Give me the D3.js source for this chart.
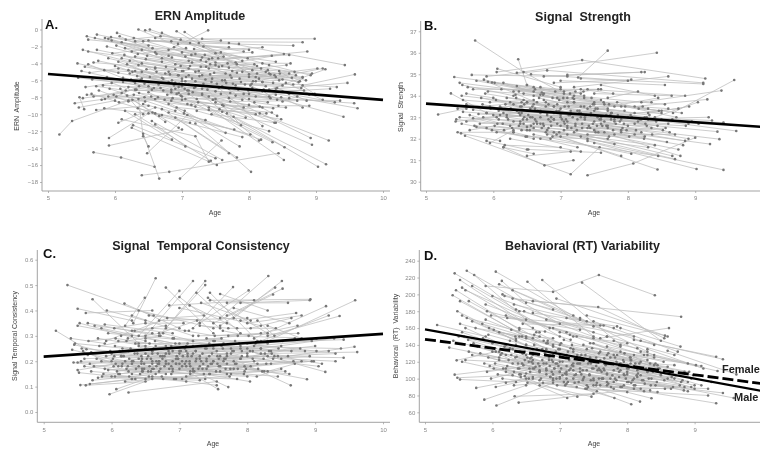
<!DOCTYPE html>
<html>
<head>
<meta charset="utf-8">
<script src="https://cdn.jsdelivr.net/npm/d3@7"></script>
<style>
  html, body { margin: 0; padding: 0; background: #fff; }
  svg { display: block; filter: blur(0.4px); font-family: "Liberation Sans", Arial, sans-serif; }
</style>
</head>
<body>
<svg id="chart" width="760" height="452"></svg>
<script>
// each row is one child: age, value, age, value (, age, value)
const ernRows = [
  [5.17,-12.4,5.36,-10.8,6.2,-8.4],[5.68,-14.5,6.09,-15.1,6.59,-16.2],[6.4,-17.2,6.81,-16.8,8.44,-14.6],
  [6.42,-12.3,6.66,-17.6],[6.97,-17.6,7.59,-13.1],[7.2,-11.1,8.03,-16.8],[7.67,-9.9,9.03,-16.2],[7.77,-10.3,9.15,-15.9],
  [8.16,-9.9,9.19,-13.1],[7.5,-8.6,8.94,-13.6],[7.7,-8.1,8.92,-12.8],[7.1,-7.6,8.52,-15.4],[7.4,-9.2,8.53,-13.9],
  [5.91,-13.7,7.0,-11.8],[5.91,-12.8,6.5,-9.9],[6.48,-14.6,7.08,-10.1],[6.35,-8.2,6.42,-12.6,6.5,-13.8],[6.05,-11,6.6,-9.2],
  [6.1,-10.6,7.2,-12.6,7.4,-15.6],[6.25,-11.6,7.52,-16],[6.27,-11.3,7.5,-15.2],[6.3,-10,7.43,-15.5],[6.55,-10.8,7.6,-15.4],
  [6.7,-9.4,7.7,-14.6],[6.9,-10.4,7.82,-15.1],[6.8,-8.8,7.86,-13.8],[7.05,-8.2,8.35,-13.3],[7.3,-7.7,8.15,-13.1],
  [6.6,-11.2,7.05,-13.8],[6.15,-9.6,6.85,-13],[6.5,-7.4,7.65,-12.2],[6.95,-6.8,8.4,-11],[7.6,-6.7,8.42,-10.2],
  [5.47,-8,5.54,-9.4],[5.4,-8.7,5.85,-8.2],[5.46,-9.2,6,-8.4],[5.52,-8.1,6.1,-7.5],[5.58,-7.7,6.45,-8.5],[5.65,-7.6,6.6,-9.9],
  [5.68,-7.9,6.3,-7.1],[5.72,-9.5,6.5,-9],[5.84,-9.3,6.7,-10.1],[5.9,-7.9,7,-8.3],[5.92,-7,6.9,-9.6],[5.98,-7.7,7.2,-9.1],
  [5.56,-6.8,6.4,-5.8],[5.45,-5.7,6.5,-6.7],[5.5,-4.9,6.3,-6.3],[5.44,-4,6.05,-5.1],[5.55,-4.4,6.8,-6.2],[5.6,-4.1,6.55,-7.1],
  [5.68,-3.9,6.9,-4.7],[5.75,-3.7,7,-5.8],[5.52,-2.4,6.6,-4.6],[5.6,-2.6,6.7,-3.8],[5.73,-2.4,7.1,-4.6],[5.58,-0.8,6.6,-2.7],
  [5.6,-1.2,6.5,-1.9],[5.73,-0.6,7.2,-2.9],[5.7,-1,7.4,-3.5],[5.85,-1,7.5,-4.2],[5.9,-1.1,6.85,-3.3],[5.95,-1.3,7.6,-6],
  [6.03,-0.4,7.3,-3.3],[6.07,-0.8,7.45,-5.8],[6.35,0,7.7,-4.5],[6.45,-0.1,8.3,-4.2],[6.52,0,7.9,-3.7],[6.7,-0.4,8.05,-4.8],
  [6.92,-0.2,8.1,-5.6],[7.04,-0.3,8.2,-6.2],[7.39,-0.1,6.8,-2.4],[6.6,-1,7.85,-1.7],[6.3,-1.4,8.8,-1.5],[7.3,-1.1,8.98,-1.1],
  [7.25,-1.6,8.66,-1.9],[7,-2.7,8.2,-2.1],[6.8,-3.1,8.05,-2.7],[7.1,-3.7,8.6,-3],[6.9,-4.1,8.87,-2.6],[7.5,-2.8,8.4,-3.8],
  [7.7,-1.6,9.43,-4.2],[8,-5.6,9.02,-4.6],[8.1,-6.1,9.1,-4.6],[8.3,-7.1,9.14,-4.7],[8.8,-6.6,9.58,-5.3],[8.2,-7.3,9.62,-9.3],
  [7.99,-7.2,9.41,-10.3],[7.8,-7.8,9.57,-8.7],[8,-8.2,9.36,-8.4],[8.4,-7,9.47,-6.3],[8.2,-6.2,9.31,-6.8],[8.5,-7.3,9.21,-7],
  [7.3,-5.4,8.8,-5.7],[7.4,-4.6,8.7,-5.4],[7.5,-3.9,8.62,-4],[7.2,-5,8.76,-6.1],[7.6,-4.3,8.5,-5.9],[7.75,-4.9,8.56,-4.2],
  [6.95,-5.4,8.4,-5.6],[7.05,-6.1,8.3,-5.2],[7.1,-6.5,8.45,-6],[7.15,-5.8,8.25,-6.7],[6.75,-5.2,8.15,-5.8],[6.85,-6,8.05,-6.9],
  [6.4,-4,7.65,-5.2],[6.3,-3.2,7.55,-4.4],[6.2,-4.8,7.35,-5.9],[6.1,-3.4,7.25,-4.9],[6.25,-2.6,7.15,-3.9],[6.15,-2.2,7.45,-3.4],
  [6.05,-3.8,7,-6.7],[6,-4.3,7.1,-7.2],[6.12,-5.7,7.3,-7.6],[6.2,-6.8,7.4,-7.9],[6.28,-6.1,7.5,-8.2],[6.36,-7.5,7.6,-8.9],
  [6.44,-6.4,7.72,-7.5],[6.52,-5.6,7.8,-6.6],[6.58,-6.9,7.9,-8.3],[6.64,-8,7.92,-9.2],[6.72,-7.2,8,-8.9],[6.78,-7.7,8.1,-7.9],
  [6.84,-8.4,8.2,-9.2],[6.9,-7,8.28,-8.6],[7,-7.9,8.36,-9.3],[7.08,-8.8,8.34,-9.8],[7.16,-7.4,8.4,-7.7],[7.24,-8.6,7.95,-10.4],
  [7.32,-6.4,8.32,-8.1],[7.38,-7.1,7.88,-11.3],[7.46,-8.3,8.1,-10],[7.55,-6.9,8.2,-11.4],[7.58,-7.6,8.6,-8.1],[7.62,-9,8.55,-9.2],
  [6.22,-5.2,6.9,-6.3],[6.33,-5.5,7.2,-6.8],[6.47,-4.7,7.42,-5.3],[5.88,-5.6,6.95,-7.5],[5.82,-6.6,6.68,-6.9],[5.95,-6.3,6.6,-8.2],
  [6.08,-7,6.42,-10],[6.18,-7.8,6.75,-10.9],[6.26,-8.3,6.95,-11.6],[6.34,-9.3,7.12,-11],[6.42,-8.8,7.35,-10.7],[6.56,-9.8,7.78,-11.8],
  [6.66,-10.2,7.9,-12.7],[6.8,-9.8,8.02,-12.4],[7.03,-9.9,8.18,-13],[7.22,-9.6,8.3,-12],[7.44,-10,8.38,-11],[7.56,-9.4,8.48,-10.6],
  [7.05,-3.2,7.72,-5.4],[7.18,-2.3,7.98,-3.4],[7.34,-3,8.12,-4.3],[7.42,-4.1,8.25,-5],[6.98,-4.3,8.08,-4.1],[6.62,-2.9,7.62,-3.2],
  [8.2,-4,8.92,-5.4],[8.32,-5.3,8.85,-6],[8.45,-4.9,8.98,-7.6],[8.55,-6.3,9.1,-8.3],[8.6,-7.6,9.28,-8.6],[8.48,-8,8.8,-9.2],
  [5.9,-3.4,6.35,-4.2,7.02,-4.9],[5.96,-2.8,6.4,-2.4,7.28,-3.6],[6.02,-1.9,6.48,-3.1,7.36,-4.4],[6.1,-1.5,6.56,-2.2,7.58,-2.7],
  [6.14,-3,6.62,-5,7.66,-6.3],[6.18,-4.1,6.7,-5.7,7.74,-5.7],[6.22,-3.7,6.76,-4.4,7.82,-5.1],[6.24,-5.9,6.82,-5.3,7.88,-6.2],
  [6.3,-4.9,6.88,-6.6,7.94,-6.5],[6.32,-7.1,6.92,-7.6,8,-7.6],[6.38,-6,7,-6.1,8.06,-6.1],[6.4,-5,7.06,-5.6,8.12,-5.2],
  [6.46,-3.5,7.12,-4.3,8.18,-4.6],[6.5,-6.2,7.18,-6.9,8.24,-7.3],[6.54,-7.9,7.22,-8.2,8.3,-7.9],[6.6,-4.5,7.26,-5.5,8.36,-6.3],
  [6.65,-6.5,7.3,-7,8.42,-8.3],[6.7,-3.4,7.36,-3.8,8.46,-5.2],[6.74,-8.3,7.4,-9.5,8.26,-9.9],[6.8,-5,7.44,-6.2,8.5,-6.6],
  [6.84,-7.1,7.5,-7.3,8.58,-7.5],[6.88,-2.1,7.54,-3.4,8.34,-3.1],[6.92,-9.2,7.6,-9.7,8.16,-9.1],[6.96,-6.4,7.64,-6,8.64,-5.7],
  [7,-4.9,7.68,-4,8.68,-5],[7.04,-7,7.72,-8.5,8.72,-8.4],[7.1,-5.4,7.76,-6.4,8.78,-6.9],[7.14,-3,7.8,-3.9,8.52,-2.9],
  [7.2,-6.1,7.84,-7.1,8.82,-7.2],[7.28,-4.4,7.9,-5,8.74,-6.2],[5.62,-5.1,6.05,-4.6,6.72,-5.8],[5.66,-5.9,6.12,-6.2,6.98,-7.8],
  [5.72,-6.7,6.16,-7.2,7.08,-7.2],[5.76,-7.2,6.2,-8.5,6.86,-8.1],[5.8,-8.3,6.28,-7.7,7.14,-8.9],[5.84,-4.8,6.26,-5,6.94,-5.4],
  [5.88,-2,6.34,-2.9,7.06,-2.2],[5.94,-0.9,6.42,-1.4,6.98,-1.2],[6.02,-7.9,6.36,-6.7,6.84,-7.4],[6.06,-8.6,6.44,-8,7.04,-9.6],
  [6.16,-1.2,6.68,-0.8,7.58,-1.3],[6.28,-1,6.94,-1.7,7.7,-2.1],[6.5,-1.3,7.12,-1.6,7.92,-2.6],[6.84,-1.4,7.32,-2,8,-2.4],
  [7.48,-5.1,8,-5.3,8.6,-5.2],[7.52,-6.4,8.04,-6.4,8.66,-6.5],[7.7,-7,8.22,-7.1,8.9,-7.7],[7.82,-4.1,8.28,-4.8,8.94,-5.2],
  [7.86,-5.8,8.38,-5.4,8.8,-5.6],[7.92,-7.6,8.42,-6.9,8.86,-8.4],[8.02,-6.6,8.5,-8.5,8.72,-7.9],[8.08,-8.6,8.44,-9,8.9,-9]
];
const ssRows = [
  [5.73,36.57,6.45,35.1,7.05,34.1],[6.37,35.7,6.5,34.5],[7.26,34.85,7.7,36.1],[6.35,35.07,8.43,36],[6.05,35.1,7.32,35.66,9.15,34.8],
  [5.9,34.9,6.8,35.18,9.12,34.6],[6.06,35.26,7,34.4],[5.68,34.97,7.1,34.9],[5.42,34.87,6.6,34.4],[8.67,33.2,9.58,34.73],
  [8.2,33.7,9.39,34.24],[8.1,33.5,9.18,33.83],[8.4,33,9.04,33.7],[8.3,33.2,8.91,33.5],[8.3,32.9,9.61,32.36],[8.2,32.9,9.42,32.75],
  [8.1,32.7,9.33,32.33],[7.7,32.6,9.36,31.98],[7.9,32.3,9.22,31.75],[7.4,31.9,9.42,30.55],[7.5,31.8,9.02,30.59],[7,32.1,8.44,30.57],
  [5.58,32.14,7.15,30.35,7.58,31.6],[7.4,30.3,8.08,30.85,9,32.05],[6.15,31.6,6.76,30.76,7.19,31],[5.18,33.13,5.6,33.4],[5.37,34.11,5.9,33.2],
  [5.47,32.3,6.3,32.3],[5.52,32.25,6.1,31.9],[5.53,32.7,6.5,32.1],[5.45,32.9,6.6,32.5],[5.44,32.8,6.2,33.1],[5.5,33,6.4,32.8],
  [5.55,33.25,6.7,33],[5.47,33.4,6.5,33.7],[5.6,33.6,6.8,33.2],[5.53,34,6.9,33.5],[5.54,34.5,6.3,34],[5.5,34.6,6.75,34.1],
  [5.62,34.4,6.6,34.2],[5.7,34.3,7,34.3],[5.75,34.7,7.1,33.9],[5.86,34.75,7.2,33.7],[5.92,34.65,7,33.2],[5.98,34.62,7.3,34.1],
  [6.02,34.6,7.5,33.7],[6.15,34.6,7.4,33.4],[6.35,34.45,7.6,33.8],[6.38,34.2,7.35,34],[6.5,34.5,7.8,33.5],[6.56,35,8,34.7],
  [6.75,34.9,8.2,35.1],[7.1,34.97,8.25,35.1],[6.9,34.6,8.05,34.75],[7.2,34.4,8.6,34.9],[7.3,34.8,9.12,34.55],[7,34.7,8.55,34.5],
  [7.4,34.3,8.85,34],[7.5,34.1,8.65,34],[7.6,34.5,8.4,34],[7.55,33.4,8.45,33.9],[7.7,33.9,8.15,34.2],[7.65,33.6,8.6,33.4],
  [5.72,32.6,6.8,32.4],[5.75,32.55,6.6,32],[5.8,32.7,6.9,32.9],[5.85,33,7,33.1],[5.9,33.2,7.05,32.8],[5.95,33.5,7.1,32.6],
  [5.9,31.9,6.5,31.5],[5.95,31.8,6.3,32.4],[6.15,31.6,6.6,31.3],[6.17,31.7,7,31.6],[6.5,31.2,7.15,31.4],[6.52,31.5,7.6,31.35],
  [6.25,32,7.3,31.4],[6.3,32.3,7.25,31.6],[6.42,32.4,7.7,32],[6.4,32.7,7.8,31.75],[6.5,32.55,7.9,31.2],[6.6,32.2,8.05,31.3],
  [6.7,32,8.45,31.2],[6.8,32.2,8.3,31.6],[6.9,32.3,8.4,31.7],[7,32.6,8.75,31.5],[7.1,32.8,8.78,31.2],[7.2,32.3,8.66,31.2],
  [7.3,32.1,8.7,31.05],[7.4,32.5,8.58,31.85],[7.5,32.4,8.82,31.7],[7.6,32.7,8.9,32],[7.7,32.5,8.85,31.9],[7.8,32.8,8.95,32.8],
  [7.9,32.9,9.2,33],[8,33,9.25,32.85],[7.85,33.1,9.05,32.7],[7.75,33.2,8.9,32.7],[7.6,33,8.75,33.4],[7.45,33.2,8.5,33.2],
  [6.1,33.5,7,33.4],[6.15,33.2,7.15,33.2],[6.2,33,7.25,33.3],[6.25,33.7,7.35,33.5],[6.3,33.6,7.45,33.1],[6.35,33.3,7.55,33],
  [6.4,33.1,7.65,32.8],[6.45,33.8,7.75,32.9],[6.5,32.9,7.7,33.4],[6.55,33.4,7.85,33],[6.6,33.6,7.95,33.3],[6.65,32.7,7.9,32.4],
  [6.7,33.3,8,32.6],[6.75,33.8,8.1,33.2],[6.8,33.1,8.15,32.8],[6.85,32.8,8.2,32.3],[6.9,33.5,8.25,33],[6.95,33.9,8.3,33.4],
  [7,33,8.35,32.5],[7.05,32.4,8.25,32.1],[7.1,33.7,8.35,33.7],[7.15,33.3,8.5,32.9],[7.2,34,8.55,33.6],[7.25,32.9,8.6,32.7],
  [7.3,33.5,8.62,32.3],[7.35,33.9,8.72,33],[5.6,32.8,6.05,33],[5.65,33.1,6.25,32.6],[5.7,33.35,6.55,33],[5.82,33.9,6.4,33.5],
  [5.88,34.1,6.65,33.7],[5.92,34.2,6.7,34.05],[5.98,32.4,6.75,32.6],[6.05,32.3,6.85,32],[6.08,32.9,6.95,32.7],[6.12,34.3,7.05,34.2],
  [6.2,33.9,6.95,33.6],[6.28,32.5,7.1,32.2],[6.33,34.05,7.2,33.85],[6.42,33.5,7.3,33],[6.48,32.1,7.4,32],[6.58,33,7.5,32.8],
  [6.62,34.3,7.6,34.3],[6.68,33.9,7.5,33.3],[6.72,32.5,7.65,32.3],[6.78,33.7,7.72,33.6],[6.82,32.9,7.42,32.6],[6.88,32.1,7.8,32.2],
  [5.96,33.4,6.38,33.2,6.98,33.3],[6,33.1,6.44,32.9,7.08,32.9],[6.04,33.8,6.46,33.6,7.12,33.5],[6.08,33.3,6.52,33.1,7.18,33],
  [6.14,32.7,6.56,32.6,7.22,32.6],[6.18,33.6,6.62,33.4,7.28,33.2],[6.22,32.9,6.64,32.8,7.32,32.7],[6.26,33.4,6.7,33.2,7.38,33.1],
  [6.3,32.8,6.74,32.7,7.44,32.5],[6.34,33.9,6.78,33.5,7.48,33.6],[6.38,32.6,6.82,32.5,7.52,32.3],[6.42,33.2,6.86,33,7.58,32.9],
  [6.46,33,6.9,32.9,7.62,32.6],[6.5,33.7,6.94,33.3,7.68,33.1],[6.54,32.4,6.98,32.3,7.72,32.1],[6.58,33.5,7.02,33.2,7.76,33.2],
  [6.62,32.9,7.06,32.7,7.82,32.7],[6.66,33.3,7.12,33.1,7.88,32.8],[6.7,32.7,7.16,32.5,7.92,32.5],[6.74,34.05,7.2,33.7,7.96,33.5],
  [6.78,32.3,7.24,32.4,8.02,32.1],[6.82,33.6,7.28,33.3,8.06,33],[6.86,32.6,7.32,32.5,8.12,32.4],[6.9,33.2,7.36,33,8.18,32.9],
  [6.94,32.2,7.4,32.2,8.24,32],[6.98,33.8,7.44,33.5,8.22,33.5],[7.02,32.9,7.48,32.7,8.28,32.6],[7.06,33.5,7.52,33.4,8.32,33.1],
  [7.1,32.5,7.56,32.3,8.36,32.2],[7.14,33.1,7.6,32.9,8.42,32.8],[7.18,33.9,7.64,33.7,8.46,33.3],[7.22,32.7,7.68,32.6,8.52,32.4],
  [5.55,33.8,5.95,33.7,6.6,33.8],[5.6,34.1,6,33.9,6.52,33.3],[5.65,32.4,6.02,32.6,6.5,32.4],[5.7,32.95,6.06,32.7,6.45,32.7],
  [5.78,33.15,6.1,33.1,6.5,33.3],[5.84,33.6,6.12,33.4,6.42,33.7],[5.9,32.5,6.16,32.4,6.6,32.7],[6.3,34.2,6.7,34.4,7.22,34.2],
  [6.45,34.1,6.88,33.9,7.34,34.2],[6.6,34,7.04,33.9,7.46,33.9],[6.72,34.15,7.14,34.1,7.56,34.3],[6.92,34.2,7.3,34.3,7.78,34.1],
  [7.3,33.2,7.74,33.1,8.28,33],[7.36,32.9,7.8,32.9,8.44,32.6],[7.5,33.6,7.9,33.5,8.5,33.3],[7.54,32.6,7.98,32.4,8.56,32.5],
  [7.7,33.3,8.04,33.1,8.66,32.9],[7.78,32.4,8.1,32.2,8.7,32.2],[7.84,33.7,8.16,33.4,8.8,33.2],[7.94,32.7,8.26,32.7,8.86,32.6]
];
const stcRows = [
  [5.35,0.50,6.62,0.38],[5.18,0.32,5.63,0.247],[6.32,0.35,6.65,0.527],[6.2,0.34,6.49,0.45],[6.5,0.3,7.2,0.516],[6.8,0.33,7.38,0.516],
  [6.7,0.3,7.38,0.5],[6.8,0.49,7.5,0.31],[6.4,0.3,7,0.477],[7,0.453,7.6,0.33],[7.2,0.33,7.79,0.492],[7.3,0.35,8.02,0.479],
  [7.6,0.37,8.31,0.536],[7.8,0.37,8.51,0.516],[7.7,0.38,8.52,0.486],[7.6,0.34,8.41,0.49],[7.5,0.35,8.38,0.463],[7.45,0.44,8.93,0.444],
  [7.9,0.43,8.92,0.44],[8.3,0.28,9.59,0.44],[8.1,0.29,9.16,0.417],[8.2,0.28,9.2,0.38],[8.3,0.3,9.36,0.378],[8.2,0.23,9.62,0.236],
  [8,0.22,9.42,0.214],[7.9,0.25,9.15,0.158],[7.5,0.2,8.88,0.129],[7.7,0.22,8.64,0.105],[5.97,0.07,6.6,0.13],[6.25,0.077,7.55,0.12],
  [6.07,0.09,6.5,0.13],[5.54,0.106,6.35,0.13],[6.6,0.24,7.57,0.09],[6.9,0.2,7.72,0.098],[5.5,0.407,6.3,0.36],[5.62,0.39,6.6,0.4],
  [5.72,0.444,6.4,0.27],[5.93,0.40,6.5,0.36],[6.19,0.427,7,0.33],[5.4,0.29,5.9,0.27],[5.5,0.34,6.3,0.3],[5.53,0.35,6.5,0.28],
  [5.45,0.265,6.15,0.22],[5.42,0.245,6.4,0.18],[5.46,0.27,6.6,0.24],[5.5,0.165,6.3,0.2],[5.52,0.155,6.05,0.14],[5.44,0.195,6.45,0.16],
  [5.5,0.195,6.6,0.19],[5.55,0.2,6.7,0.2],[5.6,0.21,6.75,0.22],[5.65,0.225,6.5,0.25],[5.7,0.235,6.85,0.23],[5.75,0.34,6.6,0.31],
  [5.65,0.35,6.9,0.29],[5.8,0.29,7,0.24],[5.85,0.33,7.1,0.26],[5.9,0.345,6.9,0.31],[5.95,0.31,7.2,0.28],[5.62,0.105,6.5,0.12],
  [5.68,0.11,6.3,0.13],[5.72,0.125,6.65,0.15],[5.8,0.135,6.95,0.13],[5.88,0.15,7.1,0.12],[5.95,0.165,7.2,0.17],[6,0.14,7.3,0.125],
  [6,0.23,7.1,0.2],[6.05,0.26,7.3,0.22],[6.1,0.28,7.4,0.25],[6.15,0.18,7.2,0.16],[6.2,0.2,7.35,0.19],[6.2,0.12,7.45,0.15],
  [6.25,0.24,7.5,0.28],[6.3,0.19,7.6,0.22],[6.3,0.15,7.55,0.105],[6.35,0.27,7.65,0.27],[6.4,0.21,7.7,0.19],[6.45,0.17,7.75,0.17],
  [6.5,0.23,7.8,0.24],[6.55,0.14,7.85,0.13],[6.6,0.2,7.9,0.21],[6.65,0.26,8,0.23],[6.7,0.16,8,0.14],[6.72,0.22,8.05,0.18],
  [6.78,0.18,8.1,0.2],[6.82,0.25,8.2,0.25],[6.88,0.15,8.22,0.16],[6.92,0.29,8.3,0.27],[6.98,0.21,8.4,0.22],[7,0.17,8.45,0.14],
  [7.02,0.24,8.5,0.26],[7.08,0.19,8.62,0.15],[7.12,0.27,8.65,0.24],[7.18,0.22,8.7,0.29],[7.22,0.16,8.35,0.19],[7.28,0.3,8.75,0.31],
  [7.32,0.2,8.8,0.2],[7.38,0.25,8.85,0.24],[7.42,0.18,8.98,0.2],[7.48,0.23,9.05,0.18],[7.52,0.28,9.02,0.24],[7.58,0.21,9.3,0.23],
  [7.62,0.26,9.38,0.25],[7.68,0.17,8.95,0.2],[7.72,0.3,9.02,0.29],[7.78,0.24,9.2,0.24],[7.82,0.19,9.58,0.257],[7.88,0.27,9.42,0.285],
  [6.3,0.38,7.2,0.3],[6.4,0.4,7.5,0.33],[6.55,0.38,7.7,0.35],[6.7,0.36,8,0.37],[6.85,0.42,8.1,0.44],[7,0.41,8.2,0.34],
  [7.15,0.42,7.85,0.33],[7.25,0.47,7.9,0.31],[7.32,0.43,8.05,0.36],[7.42,0.45,8.3,0.31],[7.45,0.47,8.15,0.28],[7.6,0.465,8.3,0.4],
  [7.7,0.43,8.6,0.43],[7.8,0.41,8.62,0.35],[7.9,0.36,8.72,0.39],[8,0.35,8.8,0.38],[8.05,0.33,8.65,0.37],[8.15,0.36,8.4,0.3],
  [8.3,0.34,8.8,0.29],[8.1,0.26,8.95,0.28],[8.2,0.25,9.28,0.29],[8.35,0.24,9,0.26],[8.45,0.22,9.1,0.19],[8.5,0.21,9.3,0.2],
  [5.58,0.24,6.1,0.18],[5.6,0.18,6.25,0.16],[5.68,0.19,6.45,0.21],[5.78,0.21,6.6,0.17],[5.85,0.2,6.7,0.19],[5.9,0.17,6.8,0.15],
  [5.92,0.22,6.8,0.26],[6,0.2,6.9,0.17],[6.03,0.18,6.95,0.21],[6.08,0.16,6.95,0.19],[6.12,0.24,7,0.23],[6.18,0.22,7.1,0.24],
  [6.22,0.17,7.15,0.19],[6.28,0.25,7.25,0.21],[6.32,0.2,7.3,0.18],[6.38,0.23,7.4,0.21],[6.42,0.15,7.4,0.17],[6.48,0.19,7.5,0.2],
  [6.52,0.21,7.55,0.24],[6.58,0.16,7.6,0.18],[6.62,0.25,7.65,0.2],[6.68,0.19,7.7,0.23],[6.75,0.21,7.8,0.17],[6.8,0.2,7.9,0.26],
  [6.85,0.17,7.95,0.15],[6.9,0.24,8,0.27],[6.95,0.19,8.08,0.21],[7.05,0.22,8.15,0.19],[7.1,0.14,8.25,0.16],[7.15,0.2,8.3,0.22],
  [6.02,0.21,6.44,0.19,7.04,0.2],[6.06,0.19,6.48,0.17,7.1,0.18],[6.1,0.15,6.54,0.16,7.16,0.15],[6.14,0.22,6.58,0.21,7.2,0.23],
  [6.16,0.25,6.6,0.23,7.24,0.24],[6.24,0.18,6.66,0.18,7.3,0.21],[6.26,0.21,6.7,0.2,7.34,0.17],[6.3,0.13,6.74,0.14,7.38,0.13],
  [6.34,0.23,6.78,0.22,7.44,0.22],[6.36,0.17,6.8,0.19,7.46,0.19],[6.4,0.26,6.84,0.24,7.5,0.26],[6.44,0.2,6.88,0.18,7.54,0.16],
  [6.46,0.16,6.9,0.16,7.58,0.18],[6.5,0.29,6.94,0.27,7.62,0.29],[6.54,0.22,6.98,0.21,7.66,0.21],[6.56,0.18,7,0.19,7.7,0.15],
  [6.6,0.14,7.04,0.13,7.74,0.14],[6.64,0.28,7.08,0.25,7.76,0.25],[6.68,0.23,7.12,0.22,7.8,0.2],[6.72,0.17,7.16,0.18,7.84,0.19],
  [6.76,0.31,7.2,0.28,7.86,0.3],[6.8,0.23,7.24,0.24,7.92,0.22],[6.84,0.19,7.28,0.17,7.96,0.16],[6.88,0.26,7.32,0.26,8,0.25],
  [6.92,0.13,7.36,0.15,8.04,0.12],[6.96,0.22,7.4,0.2,8.08,0.24],[7,0.27,7.44,0.27,8.12,0.27],[7.04,0.18,7.48,0.19,8.16,0.17],
  [7.08,0.32,7.52,0.3,8.2,0.31],[7.12,0.23,7.56,0.22,8.24,0.21],[7.16,0.16,7.6,0.16,8.28,0.19],[7.2,0.26,7.64,0.25,8.32,0.24],
  [7.24,0.2,7.68,0.21,8.36,0.23],[7.3,0.34,7.72,0.33,8.42,0.33],[7.34,0.23,7.76,0.23,8.46,0.25],[7.4,0.29,7.82,0.28,8.52,0.28],
  [7.44,0.15,7.86,0.17,8.56,0.16],[7.5,0.25,7.92,0.24,8.6,0.22],[7.56,0.19,7.96,0.18,8.68,0.2],[7.64,0.32,8.02,0.3,8.74,0.34],
  [5.56,0.25,5.98,0.24,6.44,0.22],[5.6,0.23,6.04,0.22,6.5,0.26],[5.66,0.28,6.06,0.29,6.56,0.27],[5.7,0.16,6.12,0.15,6.62,0.17],
  [5.74,0.18,6.16,0.19,6.66,0.2],[5.82,0.26,6.22,0.28,6.72,0.3],[5.86,0.14,6.26,0.14,6.76,0.13],[5.92,0.28,6.3,0.32,6.8,0.34],
  [6.04,0.33,6.5,0.35,7.06,0.35],[6.14,0.3,6.6,0.33,7.14,0.32],[6.24,0.29,6.7,0.31,7.26,0.36],[6.34,0.32,6.82,0.37,7.36,0.38],
  [7.76,0.15,8.14,0.14,8.5,0.17],[7.9,0.21,8.26,0.23,8.78,0.25],[7.98,0.17,8.3,0.16,8.7,0.19],[8.04,0.24,8.38,0.21,8.92,0.22]
];
const rtRows = [
  [5.44,225,6.4,180],[5.62,228,7,165],[5.73,223,6.5,170],[6.05,227,7.3,170],[5.52,217,6.6,160],[6.14,216,6.5,190],[6.52,215,7.5,150],
  [6.74,217,7.9,140],[5.9,210,6.9,203,7.58,223,8.41,199],[7.33,214,8.5,145],[6.3,195,8.8,173.5],[5.41,199,6.8,135],[6.6,192,7.57,185,8.55,148],
  [7.6,148,8.62,160],[7.4,175,8.56,151],[7.9,160,8.79,138],[8.1,146,9.32,126],[8.2,145,9.42,123],[8.2,132,9.02,116],[8.3,135,9.13,112],
  [8.3,128,9.34,109],[8.6,133,9.62,105],[8.1,100,9.58,77],[7.7,92,9.32,70.7],[7.4,88,9.2,80],[8,96,9.42,83],[6.06,68,6.9,95],
  [5.88,75,6.5,92],[6.39,71.5,8.2,88],[6.33,79,7.5,82],[6.7,110,8.06,69.5],[6.9,105,8.19,72.7],[7.2,100,8.36,76.6],[6.2,108,7.11,77],
  [6.5,100,7.26,78.6],[6.7,92,7.47,78.6],[6.9,98,7.81,77],[5.18,163.6,5.9,150],[5.36,136.8,6.1,125],[5.44,104.7,6.2,112],[5.48,101,6.3,104],
  [5.52,99,6.35,96],[5.76,89,6.6,102],[5.47,121.7,6.05,132],[5.55,120,6.4,105],[5.6,122,6.6,118],[5.65,132,6.7,108],[5.7,128,6.8,118],
  [5.42,145,6.2,128],[5.5,150,6.3,135],[5.55,155,6.5,128],[5.52,165,6.35,147],[5.6,160,6.45,130],[5.48,180,6.35,145],[5.55,175,6.6,135],
  [5.62,172,6.7,150],[5.7,168,6.5,140],[5.75,160,6.6,148],[5.85,165,6.9,140],[5.9,170,7,135],[5.95,160,7.1,128],[5.46,205,6.4,158],
  [5.55,208,6.7,155],[5.6,205,6.85,160],[5.65,192,6.8,142],[5.7,210,7,150],[5.52,192,6.5,150],[5.9,188,7.2,150],[5.92,180,7.1,155],
  [5.98,175,7.3,158],[6,198,7.5,155],[6.1,212,7.2,175],[6.15,200,7.4,168],[6.18,198,6.9,182],[6.2,175,7.5,148],[6.22,172,7.6,163],
  [6.3,205,7.5,162],[6.32,188,7.8,160],[6.35,182,7.7,150],[6.47,180,7.9,138],[6.45,165,7.65,163],[6.6,178,7.85,162],[6.8,170,8.1,150],
  [6.95,195,8.6,150],[7.1,172,8.4,140],[7.3,172,8.3,132],[7.5,168,8.75,132],[7.7,150,8.7,128],[7.8,145,8.4,128],[6.9,160,8.25,128],
  [7,155,8.15,136],[7.15,152,8.05,125],[7.25,150,8,142],[7.35,140,8.3,122],[7.45,142,8.45,116],[7.6,132,8.9,118],[7.7,138,9.1,115],
  [7.75,125,8.85,108],[7.85,128,8.95,100],[7.95,120,9.1,92],[8.05,118,9.25,96],[8.15,110,9,88],[8.2,104,8.95,90],[8.1,92,9.2,88],
  [5.82,130,6.7,115],[5.88,118,6.8,105],[5.92,108,6.9,120],[5.98,100,6.6,112],[6.02,112,7,100],[6.05,90,7.1,108],[6.1,122,7.2,115],
  [6.15,100,7.25,90],[6.18,138,7.3,125],[6.22,115,7.35,100],[6.28,128,7.4,110],[6.32,92,7.5,100],[6.38,118,7.55,95],[6.42,105,7.6,120],
  [6.45,130,7.65,112],[6.5,148,7.7,128],[6.55,112,7.75,100],[6.58,125,7.8,88],[6.62,140,7.85,118],[6.68,118,7.9,110],[6.72,100,7.95,92],
  [6.78,130,8,105],[6.82,145,8.05,122],[6.88,122,8.1,115],[6.92,112,8.15,102],[6.98,135,8.2,120],[7,108,8.25,85],[7.05,125,8.3,108],
  [7.1,115,8.35,92],[7.18,140,8.4,125],[7.22,95,8.45,84],[7.28,118,8.5,105],[7.32,105,8.55,98],[7.38,128,8.6,114],[7.42,90,8.65,88],
  [7.48,112,8.7,100],[7.52,120,8.8,96],[7.58,100,8.85,90],[7.62,108,8.9,85],[7.68,116,9,92],[6.35,140,7,120],[6.4,150,7.2,132],
  [6.48,122,7.1,105],[6.52,95,7.4,92],[6.6,100,7.3,118],[6.65,155,7.45,125],[6.7,108,7.5,112],[6.75,95,7.55,85],[6.85,115,7.6,92],
  [6.9,128,7.7,105],[6.95,100,7.8,96],[7,140,7.9,118],[7.08,92,7.95,105],[7.12,132,8,112],[7.2,110,8.1,88],
  [6.34,125,6.76,118,7.3,108],[6.38,112,6.8,110,7.36,102],[6.4,132,6.84,122,7.42,118],[6.44,118,6.88,108,7.46,98],[6.48,103,6.9,100,7.5,92],
  [6.5,140,6.94,132,7.54,125],[6.54,120,6.98,115,7.58,112],[6.56,108,7,102,7.62,100],[6.6,128,7.04,120,7.66,110],[6.64,114,7.08,106,7.7,96],
  [6.66,135,7.1,125,7.72,118],[6.7,98,7.12,96,7.76,90],[6.74,122,7.16,112,7.78,104],[6.76,145,7.2,135,7.82,125],[6.8,110,7.22,104,7.84,98],
  [6.84,125,7.26,118,7.88,108],[6.86,102,7.28,96,7.9,90],[6.9,138,7.32,128,7.94,122],[6.94,118,7.34,110,7.98,100],[6.96,92,7.38,88,8,84],
  [7,128,7.42,122,8.02,112],[7.02,112,7.44,104,8.06,95],[7.06,146,7.48,136,8.1,128],[7.1,100,7.5,98,8.12,92],[7.14,122,7.54,115,8.16,106],
  [7.16,136,7.58,130,8.18,118],[7.2,118,7.6,110,8.22,98],[7.24,105,7.64,100,8.26,94],[7.26,128,7.66,124,8.28,112],[7.3,112,7.7,106,8.32,100],
  [7.34,98,7.72,94,8.34,86],[7.36,122,7.76,118,8.38,108],[7.4,135,7.8,128,8.42,118],[7.44,105,7.82,100,8.44,96],[7.46,118,7.86,112,8.5,104],
  [7.5,142,7.9,132,8.54,120],[7.54,92,7.92,90,8.56,88],[7.56,110,7.96,104,8.6,100],[7.6,122,8,116,8.64,108],[7.64,100,8.02,96,8.68,90],
  [5.94,125,6.3,118,6.8,112],[5.96,115,6.32,108,6.86,102],[6,132,6.36,126,6.92,112],[6.04,118,6.4,112,6.96,118],[6.08,105,6.42,102,7,108],
  [6.12,128,6.46,116,7.04,104],[6.16,112,6.5,106,7.06,96],[6.2,95,6.54,100,7.1,94],[6.24,122,6.56,124,7.14,110],[6.26,136,6.6,122,7.18,116],
  [5.58,150,6,142,6.48,132],[5.64,146,6.04,136,6.52,125],[5.72,142,6.1,132,6.58,120],[5.78,138,6.14,130,6.62,112],[5.86,148,6.2,140,6.68,128],
  [5.94,152,6.26,145,6.74,135],[6.02,158,6.34,150,6.82,142],[6.1,155,6.44,150,6.9,148],[6.28,158,6.62,152,7.02,142],[6.4,160,6.78,156,7.16,146],
  [7.72,130,8.06,122,8.48,112],[7.8,110,8.14,104,8.66,102],[7.84,120,8.2,112,8.72,104],[7.88,102,8.24,98,8.78,92],[7.92,115,8.3,108,8.82,98],
  [7.96,130,8.34,118,8.7,116],[8,108,8.36,100,8.9,96],[8.04,125,8.4,116,8.92,108],[8.08,98,8.42,92,8.84,86],[8.12,118,8.46,112,8.98,104]
];
const ageTicks = [5, 6, 7, 8, 9, 10];
const ageTicksCut = [5, 6, 7, 8, 9];
const ernTicks = [0, -2, -4, -6, -8, -10, -12, -14, -16, -18];
const ssTicks = [30, 31, 32, 33, 34, 35, 36, 37];
const stcTicks = [0, 0.1, 0.2, 0.3, 0.4, 0.5, 0.6];
const rtTicks = [60, 80, 100, 120, 140, 160, 180, 200, 220, 240];
const trendAges = [5, 10];
const ernTrend = [-5.25, -8.3];
const ssTrend = [33.63, 32.55];
const stcTrend = [0.218, 0.308];
const rtMaleTrend = [158.6, 85.3];
const rtFemaleTrend = [146.7, 94];

const svg = d3.select("#chart");

// pixel frames, one per panel
const panels = [
  { letter: "A.", title: "ERN Amplitude", yLabel: "ERN  Amplitude", rows: ernRows, ticks: ernTicks, fmt: d3.format("d"), ages: ageTicks,
    yDomain: [-18, 0], xr: [48, 383], yr: [182, 29.5], axisX: 42, axisTop: 19, axisBottom: 191, axisRight: 390,
    titleX: 200, titleY: 20, letterX: 45, letterY: 29, yLabelX: 19, yLabelY: 106, ageX: 215, ageY: 215,
    trends: [{ v: ernTrend, w: 2.7 }] },
  { letter: "B.", title: "Signal  Strength", yLabel: "Signal  Strength", rows: ssRows, ticks: ssTicks, fmt: d3.format("d"), ages: ageTicksCut,
    yDomain: [30, 37], xr: [426, 762.5], yr: [181.7, 31.3], axisX: 420.7, axisTop: 21, axisBottom: 191, axisRight: 760,
    titleX: 583, titleY: 21, letterX: 424, letterY: 30, yLabelX: 403, yLabelY: 107, ageX: 594, ageY: 215,
    trends: [{ v: ssTrend, w: 2.7 }] },
  { letter: "C.", title: "Signal  Temporal Consistency", yLabel: "Signal Temporal Consistency", rows: stcRows, ticks: stcTicks, fmt: d3.format(".1f"), ages: ageTicks,
    yDomain: [0, 0.6], xr: [43.7, 383], yr: [412, 259.7], axisX: 37.3, axisTop: 250, axisBottom: 422.3, axisRight: 390,
    titleX: 201, titleY: 250, letterX: 43, letterY: 258, yLabelX: 17, yLabelY: 336, ageX: 213, ageY: 446,
    trends: [{ v: stcTrend, w: 2.7 }] },
  { letter: "D.", title: "Behavioral (RT) Variability", yLabel: "Behavioral  (RT)  Variability", rows: rtRows, ticks: rtTicks, fmt: d3.format("d"), ages: ageTicksCut,
    yDomain: [60, 240], xr: [425, 762], yr: [412.3, 260.7], axisX: 419.3, axisTop: 250, axisBottom: 422.3, axisRight: 760,
    titleX: 582.5, titleY: 250, letterX: 424, letterY: 260, yLabelX: 398, yLabelY: 336, ageX: 594, ageY: 446,
    trends: [{ v: rtMaleTrend, w: 2.3 }, { v: rtFemaleTrend, w: 2.8, dash: "11 4" }] }
];

panels.forEach(p => {
  const g = svg.append("g");
  const x = d3.scaleLinear([5, 10], p.xr);
  const y = d3.scaleLinear(p.yDomain, p.yr);

  const xAxis = g.append("g").attr("transform", `translate(0,${p.axisBottom})`)
    .call(d3.axisBottom(x).tickValues(p.ages).tickFormat(d3.format("d")).tickSize(2).tickPadding(3));
  const yAxis = g.append("g").attr("transform", `translate(${p.axisX},0)`)
    .call(d3.axisLeft(y).tickValues(p.ticks).tickFormat(p.fmt).tickSize(2).tickPadding(2));
  [xAxis, yAxis].forEach(a => {
    a.select(".domain").remove();
    a.selectAll("line").attr("stroke", "#999").attr("stroke-width", 0.7);
    a.selectAll("text").attr("fill", "#888").attr("font-size", 6).attr("font-family", "inherit");
  });
  g.append("line").attr("x1", p.axisX).attr("x2", p.axisX).attr("y1", p.axisTop).attr("y2", p.axisBottom)
    .attr("stroke", "#999").attr("stroke-width", 0.9);
  g.append("line").attr("x1", p.axisX).attr("x2", p.axisRight).attr("y1", p.axisBottom).attr("y2", p.axisBottom)
    .attr("stroke", "#999").attr("stroke-width", 0.9);

  const rows = p.rows.map(r => d3.range(0, r.length, 2).map(i => [r[i], r[i + 1]]));
  const line = d3.line().x(d => x(d[0])).y(d => y(d[1]));

  g.append("g").selectAll("path").data(rows).join("path")
    .attr("d", line).attr("fill", "none").attr("stroke", "#bcbcbc").attr("stroke-width", 0.75);
  g.append("g").selectAll("circle").data(rows.flat()).join("circle")
    .attr("cx", d => x(d[0])).attr("cy", d => y(d[1])).attr("r", 1.3).attr("fill", "#777");

  p.trends.forEach(t => {
    g.append("path").attr("d", line(trendAges.map((a, i) => [a, t.v[i]])))
      .attr("fill", "none").attr("stroke", "#000").attr("stroke-width", t.w)
      .attr("stroke-dasharray", t.dash || null);
  });

  g.append("text").attr("x", p.titleX).attr("y", p.titleY).attr("text-anchor", "middle")
    .attr("font-size", 12.5).attr("font-weight", 700).attr("fill", "#222").style("white-space", "pre").text(p.title);
  g.append("text").attr("x", p.letterX).attr("y", p.letterY)
    .attr("font-size", 13).attr("font-weight", 700).attr("fill", "#111").text(p.letter);
  g.append("text").attr("transform", `translate(${p.yLabelX},${p.yLabelY}) rotate(-90)`).attr("text-anchor", "middle")
    .attr("font-size", 7).attr("fill", "#444").style("white-space", "pre").text(p.yLabel);
  g.append("text").attr("x", p.ageX).attr("y", p.ageY).attr("text-anchor", "middle")
    .attr("font-size", 7).attr("fill", "#444").text("Age");
});

svg.append("text").attr("x", 722).attr("y", 373).attr("font-size", 11).attr("font-weight", 700).attr("fill", "#222").text("Female");
svg.append("text").attr("x", 734).attr("y", 401).attr("font-size", 11).attr("font-weight", 700).attr("fill", "#222").text("Male");
</script>
</body>
</html>
